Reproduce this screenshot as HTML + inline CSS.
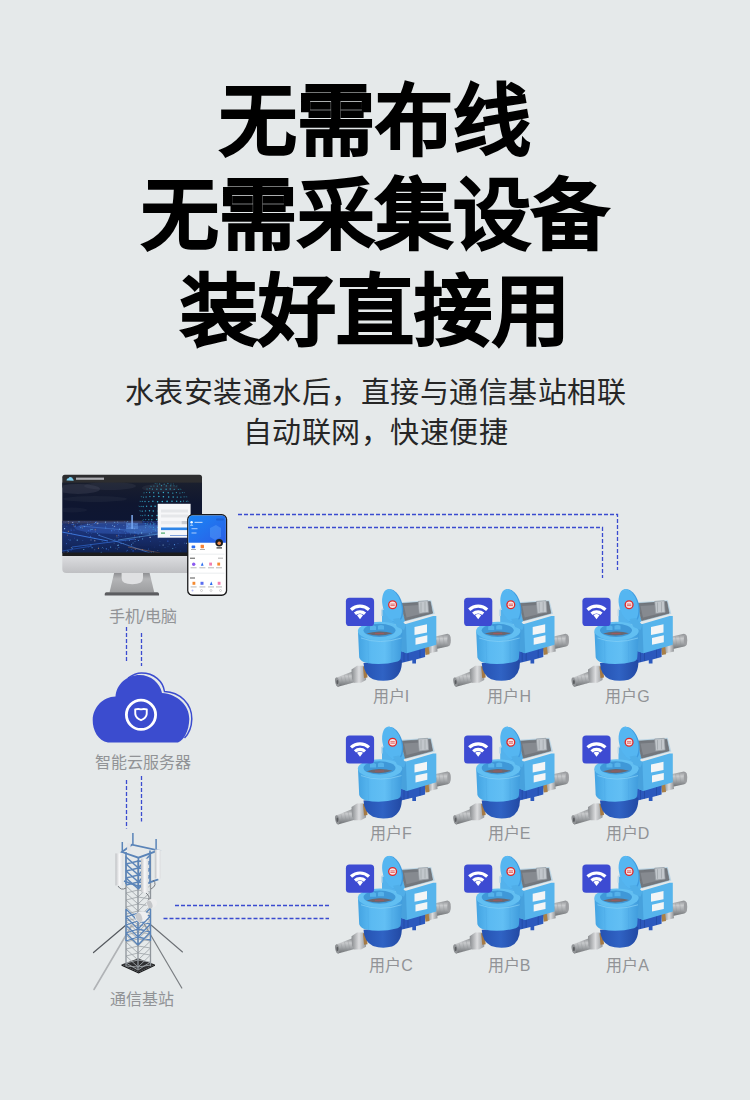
<!DOCTYPE html>
<html lang="zh-CN"><head><meta charset="utf-8">
<style>
html,body{margin:0;padding:0;}
body{width:750px;height:1100px;overflow:hidden;background:#e5e9ea;position:relative;font-family:"Liberation Sans",sans-serif;}
.t{position:absolute;left:0;width:750px;text-align:center;white-space:nowrap;}
.title{font-size:78px;color:#000;line-height:95px;-webkit-text-stroke:3.8px #000;}
.sub{font-size:29px;letter-spacing:0.5px;text-indent:0.5px;color:#262626;line-height:40px;}
.ml{width:112px;text-align:center;}
.lbl{position:absolute;font-size:16px;line-height:20px;color:#919396;white-space:nowrap;}
svg{position:absolute;left:0;top:0;}
</style></head>
<body>
<div class="t title" style="top:75px">无需布线</div>
<div class="t title" style="top:169px">无需采集设备</div>
<div class="t title" style="top:265px">装好直接用</div>
<div class="t sub" style="top:373px">水表安装通水后，直接与通信基站相联</div>
<div class="t sub" style="top:413px">自动联网，快速便捷</div>

<svg width="750" height="1100" viewBox="0 0 750 1100">
<g fill="none" stroke="#3a4bd0" stroke-width="1.3" stroke-dasharray="4 2">
  <path d="M238 514.5H617.5V570"/>
  <path d="M248 527.5H602.5V578"/>
  <path d="M126.5 627V663"/>
  <path d="M141.5 633V666"/>
  <path d="M126.5 780V828.5"/>
  <path d="M141.5 776V821.5"/>
  <path d="M175 905.5H331"/>
  <path d="M163.5 918.5H329"/>
</g>

<defs>
<linearGradient id="pipeG" x1="0" y1="0" x2="0" y2="1">
  <stop offset="0" stop-color="#8d9093"/><stop offset="0.3" stop-color="#c9cbcd"/><stop offset="0.6" stop-color="#a3a6a9"/><stop offset="1" stop-color="#6a6d70"/>
</linearGradient>
<linearGradient id="nutG" x1="0" y1="0" x2="1" y2="0">
  <stop offset="0" stop-color="#8a8d90"/><stop offset="0.5" stop-color="#dcdddf"/><stop offset="1" stop-color="#909396"/>
</linearGradient>
<linearGradient id="bowlG" x1="0" y1="0" x2="1" y2="0">
  <stop offset="0" stop-color="#2552b2"/><stop offset="0.5" stop-color="#3063c4"/><stop offset="1" stop-color="#2249a4"/>
</linearGradient>
<linearGradient id="headG" x1="0" y1="0" x2="1" y2="0">
  <stop offset="0" stop-color="#43a3e2"/><stop offset="0.3" stop-color="#5bbaf2"/><stop offset="0.6" stop-color="#62bff4"/><stop offset="1" stop-color="#3f9bdc"/>
</linearGradient>
<linearGradient id="boxG" x1="0" y1="0" x2="1" y2="0">
  <stop offset="0" stop-color="#4ba7e4"/><stop offset="1" stop-color="#5cb8f0"/>
</linearGradient>
<symbol id="meter" viewBox="0 0 125 125" width="125" height="125" overflow="visible">
  <!-- right pipe -->
  <path d="M96 52.5 L112.5 48.8 Q115.8 49.5 115.6 55 Q115.4 60.8 112.8 61.6 L99 64.6Z" fill="url(#pipeG)"/>
  <path d="M104 51.5 L105.5 63 M108 50.6 L109.5 62" stroke="#8f9295" stroke-width="0.5" opacity="0.6"/>
  <ellipse cx="114" cy="55.2" rx="1.7" ry="5.6" fill="#9c9ea1"/>
  <path d="M92.5 56.6 L101.5 54.8 L102.5 66.5 L93.5 68.6Z" fill="url(#nutG)"/>
  <path d="M89.5 62 L93.5 61.3 L94.5 69.3 L90.5 70Z" fill="#a98048"/>
  <!-- left pipe -->
  <path d="M1 92.8 L17.5 86.5 L21.5 96.7 L3 101.8 Q0 100.5 1 92.8Z" fill="url(#pipeG)"/>
  <path d="M6 91.5 L8 100.5 M9.5 90.2 L11.5 99.5 M13 89 L15 98.5" stroke="#8f9295" stroke-width="0.5" opacity="0.6"/>
  <ellipse cx="2.2" cy="97.1" rx="2" ry="4.6" fill="#909396" transform="rotate(-12 2.2 97.1)"/>
  <ellipse cx="2.4" cy="97.1" rx="1" ry="2.2" fill="#5a5d60"/>
  <path d="M16.5 84.5 L22 80.8 L28.5 80.7 L31.5 84 L31 95 L26 97.7 L19 97.7 L17 94Z" fill="url(#nutG)"/>
  <path d="M28 81.5 L31.5 81 L32.5 92.5 L29 93Z" fill="#a57a45"/>
  <!-- connector under box -->
  <path d="M62.4 64 L90.1 60.5 L90.1 72 L81 74.5 L81 78.4 L77.3 78.4 L77.3 75.2 L64 78.4Z" fill="#2b58bd"/>
  <g stroke="#1f479f" stroke-width="0.7"><path d="M69 65V77M73 64.5V76M85 62V73"/></g>
  <!-- bowl -->
  <path d="M28.5 78 L66.8 75 Q67.5 90 57 94.8 Q47 97.2 38 94.2 Q29 90 28.5 78Z" fill="url(#bowlG)"/>
  <!-- box -->
  <path d="M47 25 L66 17.8 L70.9 35.2 L65.6 40 L47 38.5Z" fill="#54b2ec"/>
  <path d="M47 24.5 L66 17.6 M46.8 24.5 V31" stroke="#bcd6e6" stroke-width="1.5" fill="none"/>
  <path d="M64.8 17.2 L96.2 15.2 L99.8 28.8 L70.4 36.6Z" fill="#bdd6e5"/>
  <path d="M66.1 18.6 L95.3 16.6 L97.6 28.2 L70.2 35.6Z" fill="#74787e" stroke="#63676c" stroke-width="0.6"/>
  <path d="M69 21 L92 19.5 L94 27 L71.5 32.5Z" fill="#868a90"/>
  <path d="M83.2 16.4 L92.8 15.7 L93.6 27.3 L84.2 28.3Z" fill="#c2c7cc" stroke="#959ba1" stroke-width="0.7"/>
  <path d="M86 17.5 V27 M90 17 V26.7" stroke="#8f959b" stroke-width="0.5"/>
  <path d="M65.6 40 L70.9 38.9 L98.1 30.9 L101.3 31 L101.3 59.7 L72 68.3 L65.6 66Z" fill="#56b4ec"/>
  <path d="M65.6 40 L70.9 38.9 L72 68.3 L65.6 66Z" fill="#47a1dd"/>
  <path d="M79.5 42 L92 39.2 L92 47.4 L79.5 50Z" fill="#f3f5f6"/>
  <path d="M80.5 53 L92.3 50.3 L92.3 57.2 L80.5 59.8Z" fill="#f3f5f6"/>
  <!-- head -->
  <path d="M23 46.5 L24.2 72.5 Q25.5 76.5 31 77.8 Q46 80.8 62.5 76.5 Q65.8 75 65.8 72 L67.4 47.5Z" fill="url(#headG)"/>
  <path d="M33 56 L33.5 78.5 M57 56 L57 77.5" stroke="#4aa8e6" stroke-width="0.6" opacity="0.6"/>
  <path d="M26 53 Q45 60 66.5 53" fill="none" stroke="#86d0f5" stroke-width="0.9" opacity="0.8"/>
  <ellipse cx="45" cy="46" rx="22.2" ry="9.3" fill="#62bff2"/>
  <ellipse cx="44.5" cy="45.3" rx="16" ry="6.6" fill="#3f98d8"/>
  <path d="M31.5 48.6 Q44 52.8 57.5 48.2 Q51 46.2 44 46.4 Q37 46.6 31.5 48.6Z" fill="#6a6770"/>
  <path d="M35 41.5 Q38 39.5 41 41.5 V45 H35Z M43 40.8 Q46 39 49 40.8 V44.5 H43Z" fill="#56b2ea"/>
  <path d="M40 48.6 L49 48.4" stroke="#b85555" stroke-width="0.7"/>
  <!-- lid -->
  <g transform="rotate(-15 57 20.5)">
    <ellipse cx="58" cy="21.2" rx="9.4" ry="17" fill="#3f9be0"/>
    <ellipse cx="57" cy="20.5" rx="9.2" ry="16.8" fill="#55b6f1"/>
  </g>
  <path d="M52 5.5 Q53.6 2.8 55.6 4.6 L55 6.5Z" fill="#5cbaf2"/>
  <path d="M58 34 L64 33 L71 40 L69 45 L62 42Z" fill="#50aee8"/>
  <circle cx="57.6" cy="19.7" r="3.9" fill="#f7e6e6" stroke="#e02828" stroke-width="1.3"/>
  <path d="M55.4 19.1h4.4M55.4 20.6h4.4" stroke="#d33" stroke-width="0.7"/>
  <!-- wifi badge -->
  <rect x="10.9" y="12.8" width="28.2" height="28.2" rx="3.6" fill="#3d4bd2"/>
  <g fill="none" stroke="#fff" stroke-width="3.2">
    <path d="M16.03 24.73 A13.15 13.15 0 0 1 33.97 24.73"/>
    <path d="M19.97 28.72 A7.55 7.55 0 0 1 30.03 28.72"/>
  </g>
  <path d="M22 30.15 A5.15 5.15 0 0 1 28 30.15 L25 34.2Z" fill="#fff"/>
</symbol>
</defs>
<g id="meters">
  <use href="#meter" x="335" y="585"/>
  <use href="#meter" x="453.2" y="585"/>
  <use href="#meter" x="571.5" y="585"/>
  <use href="#meter" x="335" y="722.6"/>
  <use href="#meter" x="453.2" y="722.6"/>
  <use href="#meter" x="571.5" y="722.6"/>
  <use href="#meter" x="335" y="851.8"/>
  <use href="#meter" x="453.2" y="851.8"/>
  <use href="#meter" x="571.5" y="851.8"/>
</g>


<!-- monitor -->
<defs>
<linearGradient id="chinG" x1="0" y1="0" x2="0" y2="1">
  <stop offset="0" stop-color="#dcdde0"/><stop offset="1" stop-color="#bfc0c3"/>
</linearGradient>
<linearGradient id="neckG" x1="0" y1="0" x2="0" y2="1">
  <stop offset="0" stop-color="#8f9093"/><stop offset="0.3" stop-color="#b3b4b6"/><stop offset="1" stop-color="#9c9d9f"/>
</linearGradient>
<linearGradient id="scrG" x1="0" y1="0" x2="0" y2="1">
  <stop offset="0" stop-color="#1a1f2e"/><stop offset="0.3" stop-color="#0f1630"/><stop offset="1" stop-color="#0b1638"/>
</linearGradient>
<radialGradient id="cityG" cx="0.5" cy="0.5" r="0.5">
  <stop offset="0" stop-color="#3d6fd8" stop-opacity="0.9"/><stop offset="1" stop-color="#1a2d70" stop-opacity="0"/>
</radialGradient>
<radialGradient id="orG" cx="0.5" cy="0.5" r="0.5">
  <stop offset="0" stop-color="#d89a5a" stop-opacity="0.8"/><stop offset="1" stop-color="#d89a5a" stop-opacity="0"/>
</radialGradient>
<linearGradient id="phG" x1="0" y1="0" x2="1" y2="1">
  <stop offset="0" stop-color="#1a86f6"/><stop offset="1" stop-color="#2a5ee6"/>
</linearGradient>
<linearGradient id="cityBase" x1="0" y1="0" x2="0" y2="1"><stop offset="0" stop-color="#1a2a62"/><stop offset="0.3" stop-color="#1c347a"/><stop offset="1" stop-color="#10214f"/></linearGradient>
<clipPath id="scrClip"><rect x="62.3" y="482.6" width="139.7" height="70.6"/></clipPath>
</defs>
<g id="monitor">
  <rect x="62.3" y="474.8" width="139.7" height="14" rx="2.5" fill="#2d2d2f"/>
  <rect x="62.3" y="482.6" width="139.7" height="70.6" fill="url(#scrG)"/>
  <g clip-path="url(#scrClip)">
<rect x="62.3" y="521" width="139.7" height="32.2" fill="url(#cityBase)"/>
<rect x="62.3" y="520.5" width="80" height="3" fill="#7a6a6a" opacity="0.3"/>
<ellipse cx="78" cy="489" rx="22" ry="5" fill="#4e5466" opacity="0.3"/>
<ellipse cx="110" cy="486" rx="26" ry="4" fill="#4e5466" opacity="0.22"/>
<ellipse cx="95" cy="499" rx="32" ry="3" fill="#4e5466" opacity="0.15"/>
<ellipse cx="160" cy="488" rx="18" ry="4" fill="#4e5466" opacity="0.2"/>
<ellipse cx="72" cy="510" rx="15" ry="2.5" fill="#4e5466" opacity="0.12"/>
<ellipse cx="120" cy="528" rx="45" ry="6" fill="#3f6fd8" opacity="0.35"/>
<ellipse cx="150" cy="530" rx="25" ry="5" fill="#5a9af0" opacity="0.3"/>
<path d="M62 532 L108 541" stroke="#4a90ff" stroke-width="0.9" opacity="0.8"/>
<path d="M72 547 L135 539" stroke="#3b7cf0" stroke-width="0.8" opacity="0.7"/>
<path d="M98 535 L150 553" stroke="#5aa0ff" stroke-width="0.7" opacity="0.7"/>
<path d="M118 540 L172 532" stroke="#6fc0ff" stroke-width="0.7" opacity="0.7"/>
<path d="M62 551 L92 546" stroke="#2f6ce0" stroke-width="0.7" opacity="0.7"/>
<path d="M128 547 L160 553" stroke="#e09050" stroke-width="0.6" opacity="0.6"/>
<path d="M80 526 L125 530" stroke="#5c9cff" stroke-width="0.6" opacity="0.6"/>
<circle cx="125.4" cy="533.8" r="0.41" fill="#5aa8ff" opacity="0.75"/>
<circle cx="144.1" cy="523.6" r="0.47" fill="#3a6ee8" opacity="0.90"/>
<circle cx="75.6" cy="526.1" r="0.53" fill="#4c8dff" opacity="0.85"/>
<circle cx="68.3" cy="551.6" r="0.48" fill="#5aa8ff" opacity="0.81"/>
<circle cx="84.4" cy="521.5" r="0.27" fill="#3a6ee8" opacity="0.60"/>
<circle cx="96.1" cy="521.6" r="0.40" fill="#3a6ee8" opacity="0.92"/>
<circle cx="134.7" cy="536.7" r="0.48" fill="#3a6ee8" opacity="0.73"/>
<circle cx="101.2" cy="552.4" r="0.54" fill="#5aa8ff" opacity="0.85"/>
<circle cx="106.3" cy="524.4" r="0.27" fill="#6fc8ff" opacity="0.88"/>
<circle cx="118.2" cy="545.2" r="0.59" fill="#6fc8ff" opacity="0.92"/>
<circle cx="62.6" cy="524.0" r="0.41" fill="#5aa8ff" opacity="0.99"/>
<circle cx="117.7" cy="522.0" r="0.52" fill="#b8e4ff" opacity="0.63"/>
<circle cx="74.6" cy="526.8" r="0.52" fill="#5aa8ff" opacity="0.56"/>
<circle cx="96.7" cy="522.3" r="0.53" fill="#4c8dff" opacity="0.59"/>
<circle cx="140.2" cy="530.1" r="0.51" fill="#4c8dff" opacity="0.57"/>
<circle cx="152.0" cy="522.5" r="0.32" fill="#3a6ee8" opacity="0.63"/>
<circle cx="197.5" cy="543.3" r="0.56" fill="#6fc8ff" opacity="0.61"/>
<circle cx="117.3" cy="545.6" r="0.29" fill="#b8e4ff" opacity="0.99"/>
<circle cx="92.1" cy="525.1" r="0.37" fill="#e8a060" opacity="0.65"/>
<circle cx="72.7" cy="522.2" r="0.34" fill="#3a6ee8" opacity="0.80"/>
<circle cx="114.2" cy="530.2" r="0.42" fill="#5aa8ff" opacity="0.79"/>
<circle cx="182.9" cy="523.5" r="0.57" fill="#4c8dff" opacity="0.91"/>
<circle cx="97.2" cy="523.7" r="0.58" fill="#e8a060" opacity="0.60"/>
<circle cx="194.6" cy="546.9" r="0.40" fill="#3a6ee8" opacity="0.55"/>
<circle cx="67.9" cy="550.7" r="0.50" fill="#6fc8ff" opacity="0.63"/>
<circle cx="177.0" cy="535.1" r="0.31" fill="#6fc8ff" opacity="0.86"/>
<circle cx="72.1" cy="524.4" r="0.55" fill="#3a6ee8" opacity="0.81"/>
<circle cx="101.5" cy="548.5" r="0.26" fill="#4c8dff" opacity="0.63"/>
<circle cx="124.5" cy="521.8" r="0.38" fill="#4c8dff" opacity="0.79"/>
<circle cx="80.8" cy="527.6" r="0.59" fill="#5aa8ff" opacity="0.83"/>
<circle cx="158.6" cy="534.6" r="0.26" fill="#4c8dff" opacity="0.51"/>
<circle cx="189.0" cy="539.1" r="0.26" fill="#5aa8ff" opacity="0.82"/>
<circle cx="129.5" cy="540.3" r="0.60" fill="#6fc8ff" opacity="0.54"/>
<circle cx="138.4" cy="540.5" r="0.51" fill="#5aa8ff" opacity="0.85"/>
<circle cx="172.8" cy="548.4" r="0.49" fill="#6fc8ff" opacity="0.95"/>
<circle cx="183.6" cy="529.2" r="0.55" fill="#ffffff" opacity="0.79"/>
<circle cx="149.4" cy="528.2" r="0.46" fill="#3a6ee8" opacity="0.54"/>
<circle cx="151.4" cy="552.2" r="0.50" fill="#5aa8ff" opacity="0.69"/>
<circle cx="164.7" cy="534.5" r="0.54" fill="#3a6ee8" opacity="0.54"/>
<circle cx="166.8" cy="521.6" r="0.42" fill="#3a6ee8" opacity="0.62"/>
<circle cx="159.6" cy="531.6" r="0.57" fill="#3a6ee8" opacity="0.63"/>
<circle cx="64.1" cy="526.0" r="0.32" fill="#b8e4ff" opacity="0.58"/>
<circle cx="188.4" cy="537.4" r="0.56" fill="#3a6ee8" opacity="0.66"/>
<circle cx="155.1" cy="523.8" r="0.53" fill="#3a6ee8" opacity="0.96"/>
<circle cx="184.9" cy="528.2" r="0.36" fill="#3a6ee8" opacity="0.57"/>
<circle cx="131.5" cy="544.8" r="0.50" fill="#5aa8ff" opacity="0.98"/>
<circle cx="101.0" cy="523.3" r="0.35" fill="#3a6ee8" opacity="0.61"/>
<circle cx="120.0" cy="536.1" r="0.36" fill="#3a6ee8" opacity="0.92"/>
<circle cx="199.0" cy="530.2" r="0.26" fill="#4c8dff" opacity="0.94"/>
<circle cx="68.3" cy="539.4" r="0.36" fill="#3a6ee8" opacity="0.90"/>
<circle cx="65.2" cy="522.8" r="0.26" fill="#3a6ee8" opacity="0.91"/>
<circle cx="95.5" cy="522.8" r="0.47" fill="#4c8dff" opacity="0.72"/>
<circle cx="150.1" cy="537.3" r="0.59" fill="#ffffff" opacity="0.84"/>
<circle cx="90.2" cy="530.9" r="0.25" fill="#4c8dff" opacity="0.74"/>
<circle cx="161.8" cy="523.5" r="0.37" fill="#6fc8ff" opacity="0.85"/>
<circle cx="134.8" cy="535.7" r="0.39" fill="#e8a060" opacity="0.90"/>
<circle cx="188.5" cy="522.1" r="0.50" fill="#5aa8ff" opacity="0.56"/>
<circle cx="125.5" cy="536.1" r="0.38" fill="#5aa8ff" opacity="0.78"/>
<circle cx="184.7" cy="543.1" r="0.41" fill="#5aa8ff" opacity="0.83"/>
<circle cx="91.0" cy="539.9" r="0.47" fill="#ffffff" opacity="0.86"/>
<circle cx="92.1" cy="547.7" r="0.59" fill="#5aa8ff" opacity="0.77"/>
<circle cx="172.4" cy="526.5" r="0.55" fill="#5aa8ff" opacity="0.67"/>
<circle cx="74.0" cy="529.9" r="0.52" fill="#3a6ee8" opacity="0.74"/>
<circle cx="66.4" cy="543.6" r="0.53" fill="#4c8dff" opacity="0.59"/>
<circle cx="109.1" cy="542.7" r="0.30" fill="#4c8dff" opacity="0.76"/>
<circle cx="163.1" cy="545.0" r="0.58" fill="#b8e4ff" opacity="0.75"/>
<circle cx="194.4" cy="522.1" r="0.43" fill="#4c8dff" opacity="0.65"/>
<circle cx="163.8" cy="536.6" r="0.55" fill="#3a6ee8" opacity="0.78"/>
<circle cx="105.8" cy="528.1" r="0.57" fill="#5aa8ff" opacity="0.60"/>
<circle cx="180.8" cy="550.9" r="0.45" fill="#3a6ee8" opacity="0.60"/>
<circle cx="137.0" cy="531.8" r="0.26" fill="#3a6ee8" opacity="0.98"/>
<circle cx="134.2" cy="528.7" r="0.45" fill="#ffffff" opacity="0.75"/>
<circle cx="158.5" cy="521.9" r="0.39" fill="#3a6ee8" opacity="0.98"/>
<circle cx="190.9" cy="525.3" r="0.29" fill="#3a6ee8" opacity="0.72"/>
<circle cx="175.9" cy="547.7" r="0.36" fill="#3a6ee8" opacity="0.60"/>
<circle cx="148.4" cy="548.9" r="0.52" fill="#4c8dff" opacity="0.51"/>
<circle cx="89.5" cy="524.4" r="0.36" fill="#b8e4ff" opacity="0.68"/>
<circle cx="148.6" cy="522.3" r="0.29" fill="#e8a060" opacity="0.76"/>
<circle cx="97.3" cy="523.8" r="0.40" fill="#3a6ee8" opacity="0.69"/>
<circle cx="120.0" cy="532.7" r="0.32" fill="#4c8dff" opacity="0.82"/>
<circle cx="151.2" cy="532.7" r="0.46" fill="#5aa8ff" opacity="0.93"/>
<circle cx="94.8" cy="540.7" r="0.57" fill="#ffffff" opacity="0.66"/>
<circle cx="106.3" cy="548.8" r="0.60" fill="#4c8dff" opacity="0.94"/>
<circle cx="81.1" cy="524.6" r="0.34" fill="#e8a060" opacity="0.55"/>
<circle cx="178.2" cy="529.3" r="0.29" fill="#ffffff" opacity="0.70"/>
<circle cx="157.7" cy="521.5" r="0.49" fill="#4c8dff" opacity="0.96"/>
<circle cx="197.1" cy="522.5" r="0.52" fill="#3a6ee8" opacity="0.75"/>
<circle cx="157.8" cy="523.7" r="0.29" fill="#4c8dff" opacity="0.52"/>
<circle cx="139.2" cy="532.2" r="0.30" fill="#3a6ee8" opacity="0.59"/>
<circle cx="90.8" cy="545.0" r="0.57" fill="#5aa8ff" opacity="0.55"/>
<circle cx="71.1" cy="550.1" r="0.52" fill="#3a6ee8" opacity="0.66"/>
<circle cx="127.4" cy="532.2" r="0.46" fill="#3a6ee8" opacity="0.51"/>
<circle cx="159.9" cy="545.1" r="0.41" fill="#4c8dff" opacity="0.87"/>
<circle cx="118.8" cy="523.8" r="0.43" fill="#4c8dff" opacity="0.51"/>
<circle cx="186.7" cy="543.3" r="0.55" fill="#b8e4ff" opacity="0.81"/>
<circle cx="118.7" cy="535.2" r="0.59" fill="#3a6ee8" opacity="0.90"/>
<circle cx="98.4" cy="548.2" r="0.52" fill="#e8a060" opacity="0.91"/>
<circle cx="118.9" cy="547.5" r="0.49" fill="#5aa8ff" opacity="0.88"/>
<circle cx="168.9" cy="528.8" r="0.27" fill="#e8a060" opacity="0.67"/>
<circle cx="127.7" cy="521.5" r="0.47" fill="#6fc8ff" opacity="0.81"/>
<circle cx="94.8" cy="549.8" r="0.37" fill="#b8e4ff" opacity="0.83"/>
<circle cx="141.7" cy="532.8" r="0.60" fill="#6fc8ff" opacity="0.82"/>
<circle cx="160.0" cy="541.6" r="0.26" fill="#5aa8ff" opacity="0.81"/>
<circle cx="165.2" cy="525.0" r="0.27" fill="#3a6ee8" opacity="0.60"/>
<circle cx="114.7" cy="522.3" r="0.57" fill="#6fc8ff" opacity="0.78"/>
<circle cx="133.1" cy="550.9" r="0.60" fill="#3a6ee8" opacity="0.82"/>
<circle cx="175.0" cy="522.0" r="0.52" fill="#3a6ee8" opacity="0.52"/>
<circle cx="191.8" cy="523.2" r="0.31" fill="#3a6ee8" opacity="0.75"/>
<circle cx="147.5" cy="521.8" r="0.40" fill="#5aa8ff" opacity="0.76"/>
<circle cx="145.6" cy="527.7" r="0.48" fill="#6fc8ff" opacity="0.78"/>
<circle cx="101.9" cy="539.7" r="0.25" fill="#6fc8ff" opacity="0.62"/>
<circle cx="68.4" cy="523.1" r="0.39" fill="#e8a060" opacity="0.95"/>
<circle cx="166.5" cy="521.8" r="0.58" fill="#5aa8ff" opacity="0.54"/>
<circle cx="188.4" cy="529.5" r="0.59" fill="#3a6ee8" opacity="0.62"/>
<circle cx="135.2" cy="549.4" r="0.41" fill="#e8a060" opacity="0.99"/>
<circle cx="176.0" cy="535.3" r="0.47" fill="#4c8dff" opacity="0.73"/>
<circle cx="90.8" cy="521.8" r="0.29" fill="#3a6ee8" opacity="0.72"/>
<circle cx="155.3" cy="530.3" r="0.45" fill="#6fc8ff" opacity="0.71"/>
<circle cx="170.6" cy="532.8" r="0.58" fill="#5aa8ff" opacity="0.87"/>
<circle cx="95.6" cy="522.5" r="0.52" fill="#5aa8ff" opacity="0.81"/>
<circle cx="112.4" cy="525.3" r="0.45" fill="#b8e4ff" opacity="0.80"/>
<circle cx="150.5" cy="541.2" r="0.34" fill="#4c8dff" opacity="0.99"/>
<circle cx="189.8" cy="546.7" r="0.27" fill="#4c8dff" opacity="0.64"/>
<circle cx="121.6" cy="536.1" r="0.44" fill="#4c8dff" opacity="0.54"/>
<circle cx="74.5" cy="538.1" r="0.47" fill="#3a6ee8" opacity="0.69"/>
<circle cx="129.0" cy="524.1" r="0.51" fill="#6fc8ff" opacity="0.92"/>
<circle cx="72.8" cy="522.5" r="0.47" fill="#ffffff" opacity="0.88"/>
<circle cx="92.1" cy="529.4" r="0.53" fill="#6fc8ff" opacity="0.68"/>
<circle cx="153.4" cy="552.0" r="0.44" fill="#6fc8ff" opacity="0.87"/>
<circle cx="190.5" cy="529.5" r="0.28" fill="#6fc8ff" opacity="0.94"/>
<circle cx="73.4" cy="522.1" r="0.42" fill="#3a6ee8" opacity="0.84"/>
<circle cx="104.0" cy="542.1" r="0.32" fill="#4c8dff" opacity="0.83"/>
<circle cx="73.9" cy="526.1" r="0.49" fill="#e8a060" opacity="0.64"/>
<circle cx="82.4" cy="527.5" r="0.38" fill="#e8a060" opacity="0.56"/>
<circle cx="161.1" cy="534.1" r="0.58" fill="#5aa8ff" opacity="0.96"/>
<circle cx="123.4" cy="543.3" r="0.36" fill="#6fc8ff" opacity="0.70"/>
<circle cx="192.4" cy="547.4" r="0.38" fill="#6fc8ff" opacity="0.68"/>
<circle cx="113.0" cy="528.5" r="0.32" fill="#6fc8ff" opacity="0.78"/>
<circle cx="173.3" cy="533.1" r="0.45" fill="#5aa8ff" opacity="0.59"/>
<circle cx="168.0" cy="546.8" r="0.26" fill="#6fc8ff" opacity="0.76"/>
<circle cx="138.1" cy="534.0" r="0.48" fill="#5aa8ff" opacity="0.90"/>
<circle cx="71.4" cy="533.3" r="0.28" fill="#ffffff" opacity="0.54"/>
<circle cx="165.0" cy="547.6" r="0.47" fill="#4c8dff" opacity="0.57"/>
<circle cx="166.2" cy="537.0" r="0.33" fill="#6fc8ff" opacity="0.88"/>
<circle cx="135.0" cy="541.7" r="0.37" fill="#6fc8ff" opacity="0.98"/>
<circle cx="156.0" cy="531.5" r="0.50" fill="#3a6ee8" opacity="0.85"/>
<circle cx="189.7" cy="529.0" r="0.48" fill="#ffffff" opacity="0.93"/>
<circle cx="174.5" cy="544.7" r="0.59" fill="#5aa8ff" opacity="0.82"/>
<circle cx="135.3" cy="539.4" r="0.40" fill="#ffffff" opacity="0.71"/>
<circle cx="82.8" cy="540.7" r="0.38" fill="#5aa8ff" opacity="0.58"/>
<circle cx="90.9" cy="529.4" r="0.59" fill="#6fc8ff" opacity="0.53"/>
<circle cx="105.4" cy="522.5" r="0.52" fill="#b8e4ff" opacity="0.59"/>
<circle cx="71.2" cy="530.4" r="0.57" fill="#3a6ee8" opacity="0.52"/>
<circle cx="77.6" cy="523.6" r="0.33" fill="#4c8dff" opacity="0.86"/>
<circle cx="145.2" cy="524.3" r="0.35" fill="#4c8dff" opacity="0.59"/>
<circle cx="167.8" cy="526.3" r="0.54" fill="#3a6ee8" opacity="0.74"/>
<circle cx="98.7" cy="547.1" r="0.37" fill="#5aa8ff" opacity="0.77"/>
<circle cx="195.5" cy="531.2" r="0.27" fill="#4c8dff" opacity="0.97"/>
<circle cx="173.9" cy="528.2" r="0.43" fill="#3a6ee8" opacity="0.64"/>
<circle cx="200.1" cy="537.4" r="0.25" fill="#6fc8ff" opacity="0.74"/>
<circle cx="114.1" cy="543.1" r="0.46" fill="#b8e4ff" opacity="0.58"/>
<circle cx="84.3" cy="526.6" r="0.55" fill="#6fc8ff" opacity="0.76"/>
<circle cx="151.0" cy="552.2" r="0.44" fill="#6fc8ff" opacity="0.58"/>
<circle cx="169.6" cy="521.5" r="0.55" fill="#ffffff" opacity="0.91"/>
<circle cx="74.0" cy="525.3" r="0.28" fill="#e8a060" opacity="0.74"/>
<circle cx="127.6" cy="550.3" r="0.55" fill="#3a6ee8" opacity="0.65"/>
<circle cx="172.2" cy="529.1" r="0.28" fill="#5aa8ff" opacity="0.91"/>
<circle cx="91.5" cy="533.2" r="0.31" fill="#3a6ee8" opacity="0.92"/>
<circle cx="105.8" cy="526.3" r="0.36" fill="#4c8dff" opacity="0.73"/>
<circle cx="161.9" cy="527.5" r="0.29" fill="#b8e4ff" opacity="0.70"/>
<circle cx="126.7" cy="550.9" r="0.48" fill="#5aa8ff" opacity="0.51"/>
<circle cx="114.9" cy="539.4" r="0.45" fill="#6fc8ff" opacity="0.73"/>
<circle cx="64.0" cy="552.1" r="0.32" fill="#ffffff" opacity="0.81"/>
<circle cx="102.9" cy="528.0" r="0.35" fill="#3a6ee8" opacity="0.67"/>
<circle cx="117.0" cy="537.7" r="0.32" fill="#6fc8ff" opacity="0.87"/>
<circle cx="108.3" cy="549.8" r="0.50" fill="#3a6ee8" opacity="0.67"/>
<circle cx="177.4" cy="522.2" r="0.28" fill="#4c8dff" opacity="0.84"/>
<circle cx="161.0" cy="523.5" r="0.54" fill="#3a6ee8" opacity="0.80"/>
<circle cx="75.0" cy="524.4" r="0.29" fill="#4c8dff" opacity="0.70"/>
<circle cx="72.6" cy="548.7" r="0.43" fill="#3a6ee8" opacity="0.82"/>
<circle cx="169.1" cy="544.1" r="0.37" fill="#6fc8ff" opacity="0.71"/>
<circle cx="64.6" cy="528.7" r="0.59" fill="#b8e4ff" opacity="0.89"/>
<circle cx="154.3" cy="535.5" r="0.37" fill="#4c8dff" opacity="0.67"/>
<circle cx="153.0" cy="522.4" r="0.43" fill="#6fc8ff" opacity="0.89"/>
<circle cx="177.2" cy="535.6" r="0.52" fill="#4c8dff" opacity="0.95"/>
<circle cx="138.7" cy="527.3" r="0.30" fill="#3a6ee8" opacity="0.86"/>
<circle cx="199.7" cy="532.3" r="0.54" fill="#e8a060" opacity="0.60"/>
<circle cx="193.8" cy="536.2" r="0.28" fill="#4c8dff" opacity="0.62"/>
<circle cx="142.6" cy="538.9" r="0.58" fill="#6fc8ff" opacity="0.68"/>
<circle cx="126.9" cy="522.6" r="0.30" fill="#5aa8ff" opacity="0.95"/>
<circle cx="138.0" cy="533.8" r="0.34" fill="#3a6ee8" opacity="0.95"/>
<circle cx="200.4" cy="544.0" r="0.29" fill="#3a6ee8" opacity="0.91"/>
<circle cx="102.6" cy="547.6" r="0.45" fill="#6fc8ff" opacity="0.92"/>
<circle cx="88.3" cy="533.3" r="0.26" fill="#4c8dff" opacity="0.59"/>
<circle cx="199.7" cy="549.6" r="0.36" fill="#b8e4ff" opacity="0.84"/>
<circle cx="165.0" cy="528.1" r="0.53" fill="#3a6ee8" opacity="0.51"/>
<circle cx="90.2" cy="530.7" r="0.39" fill="#4c8dff" opacity="0.78"/>
<circle cx="86.6" cy="532.4" r="0.45" fill="#6fc8ff" opacity="0.67"/>
<circle cx="151.7" cy="521.7" r="0.30" fill="#b8e4ff" opacity="0.98"/>
<circle cx="145.9" cy="530.8" r="0.47" fill="#3a6ee8" opacity="0.84"/>
<circle cx="167.9" cy="541.1" r="0.60" fill="#3a6ee8" opacity="0.92"/>
<circle cx="181.4" cy="528.9" r="0.45" fill="#3a6ee8" opacity="0.95"/>
<circle cx="135.6" cy="532.6" r="0.57" fill="#3a6ee8" opacity="0.66"/>
<circle cx="70.1" cy="540.1" r="0.51" fill="#5aa8ff" opacity="0.80"/>
<circle cx="167.0" cy="526.1" r="0.27" fill="#3a6ee8" opacity="0.56"/>
<circle cx="124.6" cy="531.8" r="0.27" fill="#6fc8ff" opacity="0.85"/>
<circle cx="135.6" cy="524.6" r="0.39" fill="#6fc8ff" opacity="0.62"/>
<circle cx="72.0" cy="548.2" r="0.48" fill="#5aa8ff" opacity="0.93"/>
<circle cx="121.1" cy="543.4" r="0.51" fill="#4c8dff" opacity="0.78"/>
<circle cx="188.1" cy="522.3" r="0.29" fill="#ffffff" opacity="0.77"/>
<circle cx="194.7" cy="521.5" r="0.35" fill="#6fc8ff" opacity="0.66"/>
<circle cx="71.2" cy="547.5" r="0.39" fill="#ffffff" opacity="0.68"/>
<circle cx="143.9" cy="521.7" r="0.56" fill="#4c8dff" opacity="0.65"/>
<circle cx="131.8" cy="549.3" r="0.42" fill="#5aa8ff" opacity="0.60"/>
<circle cx="103.6" cy="548.8" r="0.32" fill="#5aa8ff" opacity="0.92"/>
<circle cx="111.7" cy="530.8" r="0.56" fill="#4c8dff" opacity="1.00"/>
<circle cx="90.6" cy="536.4" r="0.56" fill="#4c8dff" opacity="0.53"/>
<circle cx="77.2" cy="540.1" r="0.57" fill="#6fc8ff" opacity="0.93"/>
<circle cx="161.6" cy="522.8" r="0.58" fill="#b8e4ff" opacity="0.72"/>
<circle cx="73.5" cy="524.3" r="0.50" fill="#6fc8ff" opacity="0.60"/>
<circle cx="87.7" cy="524.6" r="0.53" fill="#b8e4ff" opacity="0.69"/>
<circle cx="154.5" cy="547.0" r="0.33" fill="#3a6ee8" opacity="0.65"/>
<circle cx="191.3" cy="537.7" r="0.47" fill="#6fc8ff" opacity="0.54"/>
<circle cx="199.1" cy="529.8" r="0.44" fill="#3a6ee8" opacity="0.52"/>
<circle cx="145.9" cy="525.6" r="0.53" fill="#6fc8ff" opacity="0.54"/>
<circle cx="102.1" cy="541.3" r="0.35" fill="#6fc8ff" opacity="0.77"/>
<circle cx="88.4" cy="547.6" r="0.26" fill="#5aa8ff" opacity="0.73"/>
<circle cx="166.8" cy="528.2" r="0.42" fill="#5aa8ff" opacity="0.59"/>
<circle cx="139.8" cy="536.9" r="0.48" fill="#6fc8ff" opacity="0.89"/>
<circle cx="134.3" cy="531.9" r="0.49" fill="#5aa8ff" opacity="0.76"/>
<circle cx="194.8" cy="523.4" r="0.31" fill="#e8a060" opacity="0.80"/>
<circle cx="95.2" cy="529.8" r="0.53" fill="#e8a060" opacity="0.90"/>
<circle cx="95.3" cy="531.4" r="0.45" fill="#4c8dff" opacity="0.75"/>
<circle cx="67.4" cy="535.1" r="0.45" fill="#e8a060" opacity="0.94"/>
<circle cx="87.5" cy="523.0" r="0.42" fill="#4c8dff" opacity="0.72"/>
<circle cx="123.9" cy="525.2" r="0.28" fill="#ffffff" opacity="0.95"/>
<circle cx="141.6" cy="533.2" r="0.33" fill="#ffffff" opacity="0.57"/>
<circle cx="105.7" cy="521.7" r="0.47" fill="#6fc8ff" opacity="0.76"/>
<circle cx="99.3" cy="534.8" r="0.54" fill="#4c8dff" opacity="0.59"/>
<circle cx="97.9" cy="523.1" r="0.54" fill="#b8e4ff" opacity="0.89"/>
<circle cx="71.0" cy="529.0" r="0.33" fill="#6fc8ff" opacity="0.99"/>
<circle cx="68.4" cy="531.4" r="0.60" fill="#e8a060" opacity="0.57"/>
<circle cx="125.8" cy="540.9" r="0.33" fill="#4c8dff" opacity="0.95"/>
<circle cx="82.2" cy="528.5" r="0.40" fill="#6fc8ff" opacity="0.54"/>
<circle cx="67.3" cy="552.3" r="0.51" fill="#e8a060" opacity="0.61"/>
<circle cx="97.7" cy="533.5" r="0.41" fill="#6fc8ff" opacity="0.97"/>
<circle cx="113.1" cy="526.9" r="0.46" fill="#5aa8ff" opacity="0.52"/>
<circle cx="118.5" cy="537.1" r="0.37" fill="#4c8dff" opacity="0.85"/>
<circle cx="182.7" cy="534.9" r="0.41" fill="#5aa8ff" opacity="0.70"/>
<circle cx="179.7" cy="528.1" r="0.33" fill="#e8a060" opacity="0.67"/>
<circle cx="88.0" cy="533.4" r="0.32" fill="#4c8dff" opacity="0.61"/>
<circle cx="127.5" cy="526.2" r="0.60" fill="#3a6ee8" opacity="0.84"/>
<circle cx="182.4" cy="523.9" r="0.28" fill="#6fc8ff" opacity="0.85"/>
<circle cx="112.9" cy="525.4" r="0.31" fill="#4c8dff" opacity="0.63"/>
<circle cx="117.1" cy="548.8" r="0.34" fill="#e8a060" opacity="0.68"/>
<circle cx="83.8" cy="549.4" r="0.52" fill="#6fc8ff" opacity="0.86"/>
<circle cx="188.6" cy="521.6" r="0.38" fill="#6fc8ff" opacity="0.54"/>
<circle cx="185.2" cy="526.6" r="0.43" fill="#e8a060" opacity="0.53"/>
<circle cx="117.3" cy="524.6" r="0.30" fill="#4c8dff" opacity="0.80"/>
<circle cx="66.9" cy="526.3" r="0.44" fill="#3a6ee8" opacity="0.57"/>
<circle cx="160.7" cy="525.1" r="0.48" fill="#e8a060" opacity="0.57"/>
<circle cx="91.0" cy="525.6" r="0.39" fill="#b8e4ff" opacity="0.69"/>
<circle cx="182.9" cy="524.4" r="0.37" fill="#6fc8ff" opacity="0.61"/>
<circle cx="68.2" cy="521.6" r="0.45" fill="#b8e4ff" opacity="0.90"/>
<circle cx="198.1" cy="526.0" r="0.57" fill="#b8e4ff" opacity="0.61"/>
<circle cx="158.3" cy="537.7" r="0.55" fill="#5aa8ff" opacity="0.62"/>
<circle cx="150.4" cy="522.2" r="0.39" fill="#3a6ee8" opacity="0.53"/>
<circle cx="115.8" cy="526.7" r="0.35" fill="#3a6ee8" opacity="0.58"/>
<circle cx="118.4" cy="530.9" r="0.48" fill="#4c8dff" opacity="0.62"/>
<circle cx="75.4" cy="527.1" r="0.30" fill="#3a6ee8" opacity="0.79"/>
<circle cx="160.0" cy="533.5" r="0.26" fill="#b8e4ff" opacity="0.70"/>
<circle cx="113.1" cy="521.9" r="0.27" fill="#3a6ee8" opacity="0.75"/>
<circle cx="143.9" cy="530.7" r="0.34" fill="#6fc8ff" opacity="0.51"/>
<circle cx="110.7" cy="547.3" r="0.34" fill="#3a6ee8" opacity="0.83"/>
<circle cx="88.4" cy="530.7" r="0.58" fill="#3a6ee8" opacity="0.68"/>
<circle cx="142.6" cy="549.7" r="0.47" fill="#e8a060" opacity="0.81"/>
<circle cx="119.6" cy="529.1" r="0.54" fill="#6fc8ff" opacity="0.94"/>
<circle cx="115.6" cy="548.1" r="0.30" fill="#4c8dff" opacity="0.75"/>
<circle cx="105.4" cy="527.6" r="0.30" fill="#5aa8ff" opacity="0.60"/>
<circle cx="94.3" cy="538.2" r="0.25" fill="#6fc8ff" opacity="0.77"/>
<circle cx="117.3" cy="524.6" r="0.48" fill="#3a6ee8" opacity="0.77"/>
<circle cx="149.3" cy="533.8" r="0.59" fill="#5aa8ff" opacity="0.67"/>
<circle cx="110.7" cy="547.1" r="0.50" fill="#6fc8ff" opacity="0.85"/>
<circle cx="157.9" cy="550.7" r="0.31" fill="#ffffff" opacity="0.81"/>
<circle cx="130.7" cy="533.9" r="0.35" fill="#6fc8ff" opacity="0.87"/>
<circle cx="136.7" cy="524.6" r="0.36" fill="#6fc8ff" opacity="0.59"/>
<circle cx="133.9" cy="522.6" r="0.27" fill="#4c8dff" opacity="0.55"/>
<circle cx="160.5" cy="522.4" r="0.52" fill="#3a6ee8" opacity="0.74"/>
<circle cx="85.1" cy="546.1" r="0.27" fill="#5aa8ff" opacity="0.63"/>
<circle cx="133.0" cy="543.0" r="0.50" fill="#6fc8ff" opacity="0.63"/>
<circle cx="162.0" cy="526.7" r="0.52" fill="#6fc8ff" opacity="0.92"/>
<circle cx="177.7" cy="534.0" r="0.50" fill="#3a6ee8" opacity="0.81"/>
<circle cx="178.0" cy="543.2" r="0.38" fill="#4c8dff" opacity="0.83"/>
<circle cx="94.6" cy="523.6" r="0.45" fill="#4c8dff" opacity="0.97"/>
<circle cx="197.4" cy="522.7" r="0.40" fill="#b8e4ff" opacity="0.82"/>
<circle cx="117.6" cy="549.3" r="0.27" fill="#5aa8ff" opacity="0.86"/>
<circle cx="79.0" cy="521.7" r="0.51" fill="#6fc8ff" opacity="1.00"/>
<circle cx="79.2" cy="526.8" r="0.44" fill="#4c8dff" opacity="0.74"/>
<circle cx="114.4" cy="526.2" r="0.54" fill="#ffffff" opacity="0.64"/>
<circle cx="116.9" cy="535.8" r="0.59" fill="#e8a060" opacity="0.69"/>
<rect x="131.3" y="515" width="1.6" height="14" fill="#8ab8ff" opacity="0.85"/>
<rect x="126" y="523" width="12" height="6" fill="#6aa0f0" opacity="0.45"/>
<circle cx="158.2" cy="531.2" r="0.41" fill="#3fd2f2" opacity="0.31"/>
<circle cx="157.9" cy="530.9" r="0.46" fill="#3fd2f2" opacity="0.39"/>
<circle cx="159.0" cy="530.8" r="0.51" fill="#3fd2f2" opacity="0.46"/>
<circle cx="162.7" cy="530.9" r="0.53" fill="#3fd2f2" opacity="0.50"/>
<circle cx="166.0" cy="530.8" r="0.53" fill="#3fd2f2" opacity="0.50"/>
<circle cx="168.9" cy="530.8" r="0.50" fill="#3fd2f2" opacity="0.45"/>
<circle cx="170.5" cy="530.9" r="0.45" fill="#3fd2f2" opacity="0.38"/>
<circle cx="169.9" cy="531.0" r="0.40" fill="#3fd2f2" opacity="0.30"/>
<circle cx="152.9" cy="529.5" r="0.43" fill="#3fd2f2" opacity="0.34"/>
<circle cx="153.4" cy="529.3" r="0.49" fill="#3fd2f2" opacity="0.43"/>
<circle cx="155.1" cy="529.1" r="0.54" fill="#3fd2f2" opacity="0.51"/>
<circle cx="159.1" cy="529.3" r="0.58" fill="#3fd2f2" opacity="0.57"/>
<circle cx="162.5" cy="529.2" r="0.60" fill="#3fd2f2" opacity="0.60"/>
<circle cx="167.1" cy="529.9" r="0.59" fill="#3fd2f2" opacity="0.59"/>
<circle cx="170.7" cy="529.8" r="0.56" fill="#3fd2f2" opacity="0.55"/>
<circle cx="173.6" cy="529.4" r="0.52" fill="#3fd2f2" opacity="0.48"/>
<circle cx="175.1" cy="529.4" r="0.46" fill="#3fd2f2" opacity="0.39"/>
<circle cx="148.9" cy="527.0" r="0.48" fill="#3fd2f2" opacity="0.42"/>
<circle cx="150.9" cy="527.1" r="0.55" fill="#3fd2f2" opacity="0.52"/>
<circle cx="153.5" cy="527.3" r="0.60" fill="#3fd2f2" opacity="0.60"/>
<circle cx="157.8" cy="527.4" r="0.64" fill="#3fd2f2" opacity="0.66"/>
<circle cx="162.0" cy="527.2" r="0.66" fill="#3fd2f2" opacity="0.68"/>
<circle cx="166.9" cy="526.7" r="0.65" fill="#3fd2f2" opacity="0.68"/>
<circle cx="170.8" cy="526.7" r="0.63" fill="#3fd2f2" opacity="0.65"/>
<circle cx="174.6" cy="526.6" r="0.59" fill="#3fd2f2" opacity="0.59"/>
<circle cx="177.5" cy="527.2" r="0.54" fill="#3fd2f2" opacity="0.50"/>
<circle cx="178.8" cy="527.0" r="0.47" fill="#3fd2f2" opacity="0.41"/>
<circle cx="178.4" cy="526.7" r="0.40" fill="#3fd2f2" opacity="0.31"/>
<circle cx="149.5" cy="526.6" r="0.41" fill="#3fd2f2" opacity="0.32"/>
<circle cx="147.5" cy="524.0" r="0.56" fill="#3fd2f2" opacity="0.55"/>
<circle cx="150.4" cy="523.9" r="0.62" fill="#3fd2f2" opacity="0.63"/>
<circle cx="153.8" cy="524.0" r="0.67" fill="#3fd2f2" opacity="0.70"/>
<circle cx="158.5" cy="523.9" r="0.70" fill="#3fd2f2" opacity="0.74"/>
<circle cx="163.4" cy="523.4" r="0.71" fill="#3fd2f2" opacity="0.76"/>
<circle cx="168.2" cy="523.7" r="0.70" fill="#3fd2f2" opacity="0.75"/>
<circle cx="172.6" cy="523.5" r="0.68" fill="#3fd2f2" opacity="0.72"/>
<circle cx="176.8" cy="523.3" r="0.64" fill="#3fd2f2" opacity="0.66"/>
<circle cx="179.6" cy="523.5" r="0.59" fill="#3fd2f2" opacity="0.58"/>
<circle cx="181.6" cy="523.6" r="0.52" fill="#3fd2f2" opacity="0.49"/>
<circle cx="182.7" cy="524.0" r="0.46" fill="#3fd2f2" opacity="0.39"/>
<circle cx="145.3" cy="523.8" r="0.43" fill="#3fd2f2" opacity="0.34"/>
<circle cx="145.7" cy="523.6" r="0.50" fill="#3fd2f2" opacity="0.45"/>
<circle cx="148.8" cy="519.7" r="0.65" fill="#3fd2f2" opacity="0.68"/>
<circle cx="151.8" cy="519.7" r="0.70" fill="#3fd2f2" opacity="0.75"/>
<circle cx="156.6" cy="519.6" r="0.73" fill="#3fd2f2" opacity="0.79"/>
<circle cx="161.2" cy="519.9" r="0.75" fill="#3fd2f2" opacity="0.82"/>
<circle cx="166.0" cy="519.6" r="0.75" fill="#3fd2f2" opacity="0.82"/>
<circle cx="170.2" cy="519.6" r="0.73" fill="#3fd2f2" opacity="0.80"/>
<circle cx="174.8" cy="519.8" r="0.71" fill="#3fd2f2" opacity="0.76"/>
<circle cx="178.4" cy="519.9" r="0.66" fill="#3fd2f2" opacity="0.70"/>
<circle cx="181.8" cy="519.7" r="0.61" fill="#3fd2f2" opacity="0.62"/>
<circle cx="184.1" cy="520.2" r="0.55" fill="#3fd2f2" opacity="0.53"/>
<circle cx="185.0" cy="520.2" r="0.49" fill="#3fd2f2" opacity="0.43"/>
<circle cx="185.2" cy="520.1" r="0.42" fill="#3fd2f2" opacity="0.32"/>
<circle cx="142.5" cy="520.3" r="0.40" fill="#3fd2f2" opacity="0.30"/>
<circle cx="142.6" cy="520.2" r="0.47" fill="#3fd2f2" opacity="0.40"/>
<circle cx="143.4" cy="519.8" r="0.54" fill="#3fd2f2" opacity="0.50"/>
<circle cx="145.7" cy="519.6" r="0.60" fill="#3fd2f2" opacity="0.60"/>
<circle cx="152.1" cy="515.7" r="0.73" fill="#3fd2f2" opacity="0.80"/>
<circle cx="157.1" cy="515.4" r="0.76" fill="#3fd2f2" opacity="0.84"/>
<circle cx="161.3" cy="515.4" r="0.78" fill="#3fd2f2" opacity="0.86"/>
<circle cx="166.8" cy="515.3" r="0.78" fill="#3fd2f2" opacity="0.86"/>
<circle cx="171.4" cy="515.5" r="0.76" fill="#3fd2f2" opacity="0.84"/>
<circle cx="175.9" cy="515.3" r="0.73" fill="#3fd2f2" opacity="0.80"/>
<circle cx="179.8" cy="515.9" r="0.69" fill="#3fd2f2" opacity="0.74"/>
<circle cx="183.3" cy="515.7" r="0.64" fill="#3fd2f2" opacity="0.66"/>
<circle cx="185.5" cy="515.6" r="0.58" fill="#3fd2f2" opacity="0.57"/>
<circle cx="186.7" cy="515.8" r="0.51" fill="#3fd2f2" opacity="0.47"/>
<circle cx="187.6" cy="515.5" r="0.44" fill="#3fd2f2" opacity="0.36"/>
<circle cx="140.6" cy="515.5" r="0.44" fill="#3fd2f2" opacity="0.36"/>
<circle cx="140.9" cy="515.3" r="0.51" fill="#3fd2f2" opacity="0.47"/>
<circle cx="142.6" cy="515.6" r="0.58" fill="#3fd2f2" opacity="0.57"/>
<circle cx="145.0" cy="515.2" r="0.64" fill="#3fd2f2" opacity="0.66"/>
<circle cx="148.4" cy="515.5" r="0.69" fill="#3fd2f2" opacity="0.74"/>
<circle cx="158.3" cy="511.0" r="0.79" fill="#3fd2f2" opacity="0.88"/>
<circle cx="163.5" cy="510.6" r="0.80" fill="#3fd2f2" opacity="0.89"/>
<circle cx="168.1" cy="511.3" r="0.79" fill="#3fd2f2" opacity="0.89"/>
<circle cx="173.2" cy="510.8" r="0.77" fill="#3fd2f2" opacity="0.86"/>
<circle cx="177.6" cy="511.3" r="0.74" fill="#3fd2f2" opacity="0.81"/>
<circle cx="181.2" cy="511.2" r="0.69" fill="#3fd2f2" opacity="0.74"/>
<circle cx="184.2" cy="511.3" r="0.64" fill="#3fd2f2" opacity="0.66"/>
<circle cx="186.9" cy="510.7" r="0.58" fill="#3fd2f2" opacity="0.56"/>
<circle cx="188.5" cy="511.0" r="0.51" fill="#3fd2f2" opacity="0.46"/>
<circle cx="189.0" cy="511.2" r="0.44" fill="#3fd2f2" opacity="0.35"/>
<circle cx="139.6" cy="510.9" r="0.41" fill="#3fd2f2" opacity="0.32"/>
<circle cx="139.9" cy="510.6" r="0.48" fill="#3fd2f2" opacity="0.43"/>
<circle cx="140.9" cy="511.1" r="0.55" fill="#3fd2f2" opacity="0.53"/>
<circle cx="142.4" cy="511.2" r="0.62" fill="#3fd2f2" opacity="0.63"/>
<circle cx="145.5" cy="510.9" r="0.68" fill="#3fd2f2" opacity="0.72"/>
<circle cx="149.5" cy="510.7" r="0.73" fill="#3fd2f2" opacity="0.79"/>
<circle cx="153.3" cy="511.0" r="0.76" fill="#3fd2f2" opacity="0.84"/>
<circle cx="165.0" cy="506.2" r="0.80" fill="#3fd2f2" opacity="0.90"/>
<circle cx="170.5" cy="506.1" r="0.79" fill="#3fd2f2" opacity="0.88"/>
<circle cx="174.8" cy="506.4" r="0.76" fill="#3fd2f2" opacity="0.84"/>
<circle cx="179.6" cy="506.3" r="0.72" fill="#3fd2f2" opacity="0.79"/>
<circle cx="183.0" cy="506.5" r="0.67" fill="#3fd2f2" opacity="0.71"/>
<circle cx="186.1" cy="505.8" r="0.62" fill="#3fd2f2" opacity="0.62"/>
<circle cx="187.7" cy="505.8" r="0.55" fill="#3fd2f2" opacity="0.52"/>
<circle cx="188.5" cy="506.0" r="0.48" fill="#3fd2f2" opacity="0.42"/>
<circle cx="189.1" cy="506.4" r="0.41" fill="#3fd2f2" opacity="0.31"/>
<circle cx="138.7" cy="505.9" r="0.44" fill="#3fd2f2" opacity="0.37"/>
<circle cx="139.4" cy="506.4" r="0.52" fill="#3fd2f2" opacity="0.47"/>
<circle cx="141.2" cy="506.4" r="0.58" fill="#3fd2f2" opacity="0.58"/>
<circle cx="143.2" cy="506.5" r="0.65" fill="#3fd2f2" opacity="0.67"/>
<circle cx="146.6" cy="506.2" r="0.70" fill="#3fd2f2" opacity="0.75"/>
<circle cx="151.1" cy="506.3" r="0.75" fill="#3fd2f2" opacity="0.82"/>
<circle cx="155.1" cy="506.3" r="0.78" fill="#3fd2f2" opacity="0.87"/>
<circle cx="160.2" cy="505.7" r="0.80" fill="#3fd2f2" opacity="0.89"/>
<circle cx="172.0" cy="501.2" r="0.77" fill="#3fd2f2" opacity="0.86"/>
<circle cx="176.7" cy="501.2" r="0.74" fill="#3fd2f2" opacity="0.81"/>
<circle cx="180.6" cy="501.5" r="0.70" fill="#3fd2f2" opacity="0.75"/>
<circle cx="183.5" cy="501.1" r="0.65" fill="#3fd2f2" opacity="0.67"/>
<circle cx="186.4" cy="501.3" r="0.58" fill="#3fd2f2" opacity="0.58"/>
<circle cx="187.5" cy="501.1" r="0.52" fill="#3fd2f2" opacity="0.48"/>
<circle cx="188.7" cy="501.5" r="0.45" fill="#3fd2f2" opacity="0.37"/>
<circle cx="139.7" cy="501.1" r="0.40" fill="#3fd2f2" opacity="0.30"/>
<circle cx="140.1" cy="501.5" r="0.47" fill="#3fd2f2" opacity="0.41"/>
<circle cx="140.8" cy="501.3" r="0.54" fill="#3fd2f2" opacity="0.51"/>
<circle cx="142.4" cy="501.3" r="0.61" fill="#3fd2f2" opacity="0.61"/>
<circle cx="145.0" cy="501.5" r="0.67" fill="#3fd2f2" opacity="0.70"/>
<circle cx="148.8" cy="501.6" r="0.71" fill="#3fd2f2" opacity="0.77"/>
<circle cx="152.9" cy="501.3" r="0.75" fill="#3fd2f2" opacity="0.83"/>
<circle cx="157.6" cy="501.7" r="0.78" fill="#3fd2f2" opacity="0.87"/>
<circle cx="162.3" cy="501.5" r="0.79" fill="#3fd2f2" opacity="0.89"/>
<circle cx="167.1" cy="501.4" r="0.79" fill="#3fd2f2" opacity="0.88"/>
<circle cx="177.3" cy="497.1" r="0.71" fill="#3fd2f2" opacity="0.76"/>
<circle cx="180.9" cy="497.1" r="0.66" fill="#3fd2f2" opacity="0.69"/>
<circle cx="184.1" cy="496.8" r="0.60" fill="#3fd2f2" opacity="0.60"/>
<circle cx="186.2" cy="496.7" r="0.54" fill="#3fd2f2" opacity="0.51"/>
<circle cx="187.0" cy="496.9" r="0.47" fill="#3fd2f2" opacity="0.40"/>
<circle cx="141.1" cy="496.5" r="0.45" fill="#3fd2f2" opacity="0.38"/>
<circle cx="141.8" cy="496.7" r="0.52" fill="#3fd2f2" opacity="0.48"/>
<circle cx="143.5" cy="497.2" r="0.59" fill="#3fd2f2" opacity="0.58"/>
<circle cx="146.1" cy="497.0" r="0.65" fill="#3fd2f2" opacity="0.67"/>
<circle cx="149.9" cy="496.6" r="0.70" fill="#3fd2f2" opacity="0.75"/>
<circle cx="153.9" cy="496.5" r="0.74" fill="#3fd2f2" opacity="0.80"/>
<circle cx="158.9" cy="496.6" r="0.76" fill="#3fd2f2" opacity="0.84"/>
<circle cx="163.4" cy="496.7" r="0.77" fill="#3fd2f2" opacity="0.85"/>
<circle cx="168.7" cy="497.1" r="0.76" fill="#3fd2f2" opacity="0.84"/>
<circle cx="173.2" cy="496.9" r="0.74" fill="#3fd2f2" opacity="0.81"/>
<circle cx="179.9" cy="493.0" r="0.62" fill="#3fd2f2" opacity="0.63"/>
<circle cx="182.4" cy="492.6" r="0.56" fill="#3fd2f2" opacity="0.54"/>
<circle cx="184.1" cy="492.8" r="0.49" fill="#3fd2f2" opacity="0.44"/>
<circle cx="184.6" cy="492.5" r="0.42" fill="#3fd2f2" opacity="0.33"/>
<circle cx="143.9" cy="493.0" r="0.46" fill="#3fd2f2" opacity="0.40"/>
<circle cx="144.1" cy="492.8" r="0.53" fill="#3fd2f2" opacity="0.50"/>
<circle cx="146.6" cy="492.5" r="0.60" fill="#3fd2f2" opacity="0.60"/>
<circle cx="149.6" cy="492.5" r="0.65" fill="#3fd2f2" opacity="0.68"/>
<circle cx="153.7" cy="492.7" r="0.69" fill="#3fd2f2" opacity="0.74"/>
<circle cx="158.5" cy="493.0" r="0.72" fill="#3fd2f2" opacity="0.78"/>
<circle cx="163.4" cy="492.6" r="0.74" fill="#3fd2f2" opacity="0.80"/>
<circle cx="168.2" cy="492.8" r="0.73" fill="#3fd2f2" opacity="0.80"/>
<circle cx="172.8" cy="493.1" r="0.71" fill="#3fd2f2" opacity="0.76"/>
<circle cx="176.4" cy="492.6" r="0.67" fill="#3fd2f2" opacity="0.71"/>
<circle cx="180.1" cy="489.1" r="0.53" fill="#3fd2f2" opacity="0.50"/>
<circle cx="181.1" cy="489.4" r="0.47" fill="#3fd2f2" opacity="0.40"/>
<circle cx="146.4" cy="488.9" r="0.45" fill="#3fd2f2" opacity="0.38"/>
<circle cx="147.2" cy="488.9" r="0.52" fill="#3fd2f2" opacity="0.48"/>
<circle cx="149.8" cy="488.7" r="0.58" fill="#3fd2f2" opacity="0.57"/>
<circle cx="152.4" cy="489.1" r="0.63" fill="#3fd2f2" opacity="0.65"/>
<circle cx="156.8" cy="489.2" r="0.67" fill="#3fd2f2" opacity="0.70"/>
<circle cx="161.0" cy="489.3" r="0.69" fill="#3fd2f2" opacity="0.73"/>
<circle cx="166.1" cy="489.2" r="0.69" fill="#3fd2f2" opacity="0.73"/>
<circle cx="170.2" cy="489.0" r="0.67" fill="#3fd2f2" opacity="0.71"/>
<circle cx="174.2" cy="489.3" r="0.64" fill="#3fd2f2" opacity="0.66"/>
<circle cx="178.3" cy="489.3" r="0.59" fill="#3fd2f2" opacity="0.59"/>
<circle cx="177.2" cy="485.9" r="0.46" fill="#3fd2f2" opacity="0.39"/>
<circle cx="150.5" cy="486.1" r="0.46" fill="#3fd2f2" opacity="0.39"/>
<circle cx="151.2" cy="486.3" r="0.52" fill="#3fd2f2" opacity="0.48"/>
<circle cx="153.9" cy="486.0" r="0.58" fill="#3fd2f2" opacity="0.56"/>
<circle cx="157.3" cy="486.1" r="0.61" fill="#3fd2f2" opacity="0.62"/>
<circle cx="161.5" cy="485.7" r="0.63" fill="#3fd2f2" opacity="0.65"/>
<circle cx="166.3" cy="485.9" r="0.63" fill="#3fd2f2" opacity="0.65"/>
<circle cx="170.8" cy="485.8" r="0.61" fill="#3fd2f2" opacity="0.62"/>
<circle cx="174.0" cy="485.7" r="0.57" fill="#3fd2f2" opacity="0.56"/>
<circle cx="176.3" cy="486.0" r="0.52" fill="#3fd2f2" opacity="0.48"/>
<circle cx="173.2" cy="483.8" r="0.42" fill="#3fd2f2" opacity="0.32"/>
<circle cx="155.2" cy="483.5" r="0.41" fill="#3fd2f2" opacity="0.32"/>
<circle cx="155.1" cy="483.5" r="0.47" fill="#3fd2f2" opacity="0.41"/>
<circle cx="157.0" cy="483.8" r="0.52" fill="#3fd2f2" opacity="0.49"/>
<circle cx="159.7" cy="483.9" r="0.56" fill="#3fd2f2" opacity="0.54"/>
<circle cx="164.2" cy="484.2" r="0.58" fill="#3fd2f2" opacity="0.56"/>
<circle cx="167.9" cy="483.4" r="0.56" fill="#3fd2f2" opacity="0.55"/>
<circle cx="171.0" cy="484.1" r="0.53" fill="#3fd2f2" opacity="0.49"/>
<circle cx="173.3" cy="484.0" r="0.47" fill="#3fd2f2" opacity="0.41"/>

</g>
  <rect x="62.3" y="552.5" width="139.7" height="3.5" fill="#1c1c1e"/>
  <path d="M62.3 556 H202 V569 Q202 573 198 573 H66.3 Q62.3 573 62.3 569Z" fill="url(#chinG)"/>
  <path d="M114.1 573 H149.6 L154.3 592.6 H109.5Z" fill="url(#neckG)"/>
  <path d="M121.6 573 V578 Q121.6 584.2 132.3 584.2 Q143 584.2 143 578 V573Z" fill="#dfe0e2"/>
  <path d="M106.5 592.3 H157.2 Q159.5 592.6 159 595.4 H104.8 Q104.3 592.6 106.5 592.3Z" fill="#5c5d60"/>
  <!-- title bar icon/text -->
  <path d="M66.5 480.5 Q66.5 478.3 68.5 478.3 Q69.3 476.6 71 477.2 Q72.8 477.3 72.8 479 Q74 479.5 73.6 480.8Z" fill="#7fd0f0"/>
  <rect x="76" y="477.6" width="28" height="2.2" fill="#d8dae0" opacity="0.75"/>
  <!-- login box -->
  <rect x="157.7" y="503.8" width="32.9" height="33.9" fill="#f6f7f9"/>
  <rect x="161" y="509.5" width="27" height="3" fill="#e5e7ea"/>
  <rect x="161" y="514.5" width="27" height="3" fill="#e5e7ea"/>
  <rect x="161" y="521" width="20" height="3.2" fill="#e9ebee"/>
  <rect x="181.5" y="521" width="6.5" height="3.2" fill="#c8ccd2"/>
  <rect x="161" y="527.5" width="27" height="2.6" fill="#2f86e8"/>
  <rect x="161" y="532.5" width="4" height="1.2" fill="#4aa86a"/>
  <rect x="170" y="535" width="18" height="1" fill="#4a7ad0" opacity="0.7"/>
</g>
<!-- phone -->
<g id="phone">
  <rect x="187.1" y="514.1" width="40.1" height="81.8" rx="5.5" fill="#1b1b1d"/>
  <rect x="188.4" y="515.4" width="37.5" height="79.2" rx="4.4" fill="#fff"/>
  <path d="M188.4 542.7 V519.8 Q188.4 515.4 192.8 515.4 H221.5 Q225.9 515.4 225.9 519.8 V542.7Z" fill="url(#phG)"/>
  <rect x="216" y="518.5" width="8" height="2" rx="1" fill="#1b5ac8" opacity="0.7"/>
  <circle cx="191.6" cy="522.3" r="1.2" fill="#fff"/><path d="M189.9 525.5 Q191.6 523.3 193.3 525.5Z" fill="#fff"/>
  <rect x="194.5" y="521.8" width="8" height="1.2" fill="#cfe3ff" opacity="0.8"/>
  <rect x="191.5" y="528.2" width="6" height="1" fill="#cfe3ff" opacity="0.8"/>
  <rect x="191.5" y="532.5" width="5" height="1" fill="#cfe3ff" opacity="0.8"/>
  <path d="M210 528 L216 525 L221 528 L221 537 L215 540 L210 537Z" fill="#6ab0ff" opacity="0.35"/>
  <circle cx="219.2" cy="542.7" r="3.8" fill="#1b1b1d"/>
  <circle cx="219.2" cy="543.3" r="1.8" fill="#f08a4a"/>
  <rect x="216.5" y="547.3" width="5.5" height="1.2" fill="#333"/>
  <rect x="191.6" y="545.4" width="3.6" height="2.8" rx="0.6" fill="#2a6cf0"/>
  <rect x="200.6" y="544.8" width="3.4" height="3.4" rx="0.6" fill="#f5823a"/>
  <rect x="191" y="549" width="5" height="0.8" fill="#999"/><rect x="200" y="549" width="5" height="0.8" fill="#999"/>
  <rect x="189.5" y="553.6" width="35" height="1.2" fill="#eef0f2"/>
  <rect x="190" y="557.7" width="5" height="1" fill="#555"/><rect x="218" y="557.7" width="5" height="0.9" fill="#aaa"/>
  <circle cx="193.7" cy="564.2" r="1.7" fill="#8c5af0"/>
  <path d="M200.8 565.8 L202.3 562.3 L203.6 565.8Z" fill="#2d6ef0"/>
  <rect x="209.2" y="562.6" width="2.8" height="3" fill="#f27fb0"/>
  <rect x="217.3" y="562.6" width="2.8" height="3" fill="#f58a30"/>
  <rect x="190.6" y="567.5" width="6" height="0.7" fill="#999"/><rect x="199.4" y="567.5" width="6" height="0.7" fill="#999"/><rect x="208" y="567.5" width="6" height="0.7" fill="#999"/><rect x="216" y="567.5" width="6" height="0.7" fill="#999"/>
  <rect x="189.5" y="572.6" width="35" height="1.2" fill="#eef0f2"/>
  <rect x="190" y="577.5" width="5" height="1" fill="#555"/>
  <rect x="192.5" y="581.8" width="2.8" height="3" fill="#f58a30"/>
  <rect x="200.5" y="581.8" width="3" height="3" fill="#5a6ef0"/>
  <path d="M209.8 585 L211.3 581.5 L212.6 585Z" fill="#2d6ef0"/>
  <rect x="217.7" y="581.8" width="2.8" height="3" fill="#f27fb0"/>
  <rect x="190.6" y="586.6" width="6" height="0.7" fill="#999"/><rect x="199.4" y="586.6" width="6" height="0.7" fill="#999"/><rect x="208" y="586.6" width="6" height="0.7" fill="#999"/><rect x="216" y="586.6" width="6" height="0.7" fill="#999"/>
  <circle cx="192.5" cy="590.5" r="1" fill="#b5b8f5"/><circle cx="201.5" cy="590.5" r="1" fill="none" stroke="#aaa" stroke-width="0.5"/><circle cx="211" cy="590.5" r="1" fill="none" stroke="#aaa" stroke-width="0.5"/><circle cx="220.5" cy="590.5" r="1" fill="none" stroke="#aaa" stroke-width="0.5"/>
</g>
<!-- tower -->
<g id="tower">
  <defs>
    <linearGradient id="panG" x1="0" y1="0" x2="1" y2="0"><stop offset="0" stop-color="#bfc1c4"/><stop offset="0.5" stop-color="#f7f7f8"/><stop offset="1" stop-color="#dcdee0"/></linearGradient>
  </defs>
  <g stroke-linecap="round">
    <path d="M126 925 L93.5 952.5" stroke="#55595e" stroke-width="1.2"/>
    <path d="M151 925 L182.5 952" stroke="#6c7075" stroke-width="1.1"/>
    <path d="M132 925 L94 989.5" stroke="#b0b3b6" stroke-width="1.6"/>
    <path d="M144.5 924.5 L181.8 988" stroke="#7a7e82" stroke-width="1.2"/>
  </g>
  <path d="M121.5 964.5 L138 958.5 L155 964.5 L138.6 972.2Z" fill="#2e2f31"/>
  <path d="M121.5 964.5 L138.6 972.2 L155 964.5 L155 965.8 L138.6 973.5 L121.5 965.8Z" fill="#17181a"/>
  <g stroke="#a3a8ad" stroke-width="0.9" fill="none"><path d="M126 886 L138 897 M126 893 L138 890 M138 890 L150.5 892 M138 897 L150.5 885 M126 893 L138 904 M126 900 L138 897 M138 897 L150.5 899 M138 904 L150.5 892 M126 900 L138 911 M126 907 L138 904 M138 904 L150.5 906 M138 911 L150.5 899 M126 907 L138 918 M126 914 L138 911 M138 911 L150.5 913 M138 918 L150.5 906 M126 914 L138 925 M126 921 L138 918 M138 918 L150.5 920 M138 925 L150.5 913 M126 921 L138 932 M126 928 L138 925 M138 925 L150.5 927 M138 932 L150.5 920 M126 928 L138 939 M126 935 L138 932 M138 932 L150.5 934 M138 939 L150.5 927 M126 935 L138 946 M126 942 L138 939 M138 939 L150.5 941 M138 946 L150.5 934 M126 942 L138 953 M126 949 L138 946 M138 946 L150.5 948 M138 953 L150.5 941 M126 949 L138 960 M126 956 L138 953 M138 953 L150.5 955 M138 960 L150.5 948 M126 956 L138 967 M126 963 L138 960 M138 960 L150.5 962 M138 967 L150.5 955 M126 963 L138 970 M126 966 L138 967 M138 967 L150.5 965 M138 970 L150.5 962"/></g>
  <g stroke="#8f959b" stroke-width="1.3" fill="none"><path d="M126 856 V966 M150.5 854 V966 M138 860 V969"/></g>
  <g stroke="#5a84b8" stroke-width="1.5" fill="none"><path d="M126 857 L138.4 868 M126 864 L138.4 861 M138.4 861 L150 862 M138.4 868 L150 855 M126 864 L138.4 875 M126 871 L138.4 868 M138.4 868 L150 869 M138.4 875 L150 862 M126 871 L138.4 882 M126 878 L138.4 875 M138.4 875 L150 876 M138.4 882 L150 869 M126 878 L138.4 889 M126 885 L138.4 882 M138.4 882 L150 883 M138.4 889 L150 876"/></g>
  <g stroke="#5a84b8" stroke-width="1.3" fill="none"><path d="M126 909 L138 921 M126 917 L138 913 M138 913 L150.5 916 M138 921 L150.5 908 M126 917 L138 929 M126 925 L138 921 M138 921 L150.5 924 M138 929 L150.5 916 M126 925 L138 937 M126 933 L138 929 M138 929 L150.5 932 M138 937 L150.5 924 M126 933 L138 945 M126 941 L138 937 M138 937 L150.5 940 M138 945 L150.5 932 M126 909 V941 M150.5 909 V941 M138 913 V944"/></g>
  <g stroke="#5a84b8" fill="none">
    <path d="M126 852 V884 M138.4 857.7 V888 M150 850.4 V882" stroke-width="1.6"/>
    <path d="M121.9 852 L138.4 857.7 L158.3 850.4 L131.9 844.7Z" stroke-width="1.8"/>
    <path d="M124 881 L138.4 886.3 L158.3 879.4" stroke-width="1.8"/>
    <path d="M122.3 842 V853 M132.9 833 V845 M156.1 839 V851" stroke-width="1.5"/>
  </g>
  <rect x="127.1" y="843" width="3.5" height="8" fill="#e3e4e6"/>
  <rect x="115.4" y="853.4" width="7.8" height="32.1" fill="url(#panG)"/>
  <rect x="141" y="858.6" width="7.3" height="33.8" fill="url(#panG)"/>
  <rect x="154.8" y="849.5" width="6.1" height="29" fill="url(#panG)"/>
  <path d="M118 886 Q121 891 126 888 M153 880 Q158 885 151 889 M146 893 Q151 897 148 901" stroke="#6d7176" stroke-width="0.9" fill="none"/>
  <ellipse cx="151.7" cy="903.5" rx="5.5" ry="4.5" fill="#ebeced" transform="rotate(-20 151.7 903.5)"/>
  <ellipse cx="149.8" cy="904.5" rx="2.5" ry="4" fill="#c4c6c9" transform="rotate(-20 149.8 904.5)"/>
  <ellipse cx="141.5" cy="916.6" rx="6.5" ry="5.3" fill="#eeeff0" transform="rotate(-20 141.5 916.6)"/>
  <ellipse cx="139" cy="917.5" rx="3" ry="4.8" fill="#c9cbce" transform="rotate(-20 139 917.5)"/>
</g>
<!-- cloud -->
<g id="cloud">
  <path d="M128 678 C133 674.5 137 673 141.5 673 C154 673 163 681 164.5 691.5 C180 692 192 704 191.8 719 C191.6 728 188.5 734 184.5 738" fill="none" stroke="#3b4ccf" stroke-width="1.5"/>
  <path d="M108 742.5 C98 741 92.5 730 92.7 720 C93 707 103 697 115.5 696.5 C116.5 684 127 675 139.5 675 C151 675 160 683 162 693 C177 694 189.5 705 189.3 719 C189 731 184 740 178 742.5Z" fill="#3b4ccf"/>
  <circle cx="141" cy="714.8" r="14.6" fill="none" stroke="#fff" stroke-width="2.8"/>
  <path d="M135.2 709.4 Q138.2 708.5 141 709.4 Q143.8 708.5 146.8 709.4 L146.7 714.2 Q146.3 718.2 141 720.2 Q135.7 718.2 135.3 714.2Z" fill="none" stroke="#fff" stroke-width="1.9" stroke-linejoin="round"/>
</g>
</svg>

<div class="lbl" style="left:108.5px;top:607px">手机/电脑</div>
<div class="lbl" style="left:95px;top:752.5px">智能云服务器</div>
<div class="lbl" style="left:110px;top:989.5px">通信基站</div>

<div class="lbl ml" style="left:335px;top:686.5px">用户I</div>
<div class="lbl ml" style="left:453.2px;top:686.5px">用户H</div>
<div class="lbl ml" style="left:571.5px;top:686.5px">用户G</div>
<div class="lbl ml" style="left:335px;top:824px">用户F</div>
<div class="lbl ml" style="left:453.2px;top:824px">用户E</div>
<div class="lbl ml" style="left:571.5px;top:824px">用户D</div>
<div class="lbl ml" style="left:335px;top:956px">用户C</div>
<div class="lbl ml" style="left:453.2px;top:956px">用户B</div>
<div class="lbl ml" style="left:571.5px;top:956px">用户A</div>
</body></html>
